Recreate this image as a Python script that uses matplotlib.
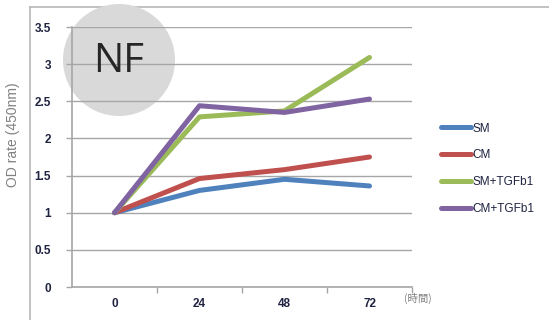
import matplotlib
matplotlib.use("Agg")
import matplotlib.pyplot as plt
from matplotlib.patches import Ellipse
from matplotlib.lines import Line2D

# Time points (hours) and OD readings for each culture condition
hours = ["0", "24", "48", "72"]
sm = [1.00, 1.30, 1.45, 1.36]
cm = [1.00, 1.46, 1.58, 1.75]
sm_tgfb1 = [1.00, 2.29, 2.37, 3.09]
cm_tgfb1 = [1.00, 2.44, 2.35, 2.53]
series_names = ["SM", "CM", "SM+TGFb1", "CM+TGFb1"]
y_ticks = [0, 0.5, 1, 1.5, 2, 2.5, 3, 3.5]
y_tick_labels = ["0", "0.5", "1", "1.5", "2", "2.5", "3", "3.5"]

colors = ["#4F81BD", "#C0504D", "#9BBB59", "#8064A2"]
tick_color = "#1F2340"
font = "Liberation Sans"

W, H = 549, 320
fig = plt.figure(figsize=(W / 100, H / 100), dpi=100)
ax = fig.add_axes([72 / W, 1 - 287 / H, (412 - 72) / W, (287 - 27) / H])
ax.set_zorder(2)

# Chart-area border (top and left edges)
fig.add_artist(Line2D([30 / W, 1.0], [1 - 7 / H, 1 - 7 / H], color="#b8b8b8", lw=1.2, zorder=0))
fig.add_artist(Line2D([30 / W, 30 / W], [0, 1 - 7 / H], color="#b8b8b8", lw=1.2, zorder=0))

# Grey badge with the panel label
badge = Ellipse((119 / W, 1 - 60 / H), 112 / W, 112 / H, transform=fig.transFigure,
                facecolor="#d9d9d9", edgecolor="none", zorder=1)
fig.add_artist(badge)
fig.text(119 / W, 1 - 62 / H, "NF", ha="center", va="center",
         fontsize=29, family="Open Sans", color="#262626", zorder=3)

ax.patch.set_alpha(0)
x = range(len(hours))
for vals, c, name in zip([sm, cm, sm_tgfb1, cm_tgfb1], colors, series_names):
    ax.plot(x, vals, color=c, lw=3.6, solid_capstyle="round", label=name, zorder=3)

ax.set_xlim(-0.5, 3.5)
ax.set_ylim(0, 3.5)
ax.set_yticks(y_ticks)
ax.set_yticklabels(y_tick_labels)
ax.set_xticks(list(x))
ax.set_xticklabels(hours)
ax.set_xticks([0.5, 1.5, 2.5, 3.5], minor=True)

ax.grid(axis="y", color="#a6a6a6", lw=1.0, zorder=1)
for side in ["top", "right"]:
    ax.spines[side].set_visible(False)
for side in ["left", "bottom"]:
    ax.spines[side].set_color("#a6a6a6")
    ax.spines[side].set_linewidth(1.2)

ax.tick_params(axis="y", length=4, width=1, color="#a6a6a6", pad=11,
               labelsize=8.5, labelcolor=tick_color)
ax.tick_params(axis="x", which="major", length=0, pad=8,
               labelsize=8.5, labelcolor=tick_color)
ax.tick_params(axis="x", which="minor", length=4, width=1, color="#a6a6a6")
for lbl in ax.get_xticklabels() + ax.get_yticklabels():
    lbl.set_fontweight("bold")
    lbl.set_family(font)

fig.text(13 / W, 1 - 135 / H, "OD rate (450nm)", rotation=90, ha="center",
         va="center", fontsize=10, color="#808080", family=font)
fig.text(404 / W, 1 - 298 / H, "(時間)", ha="left", va="center", fontsize=7.5,
         color="#808080", family=["Noto Sans CJK JP", "DejaVu Sans"])

leg = ax.legend(loc="upper left", bbox_to_anchor=(430 / W, 1 - 112 / H),
                bbox_transform=fig.transFigure, frameon=False,
                handlelength=2.6, handletextpad=0.1, labelspacing=1.25,
                prop={"family": font, "size": 8.5})
for t in leg.get_texts():
    t.set_color(tick_color)

fig.savefig("out.png", dpi=100)
